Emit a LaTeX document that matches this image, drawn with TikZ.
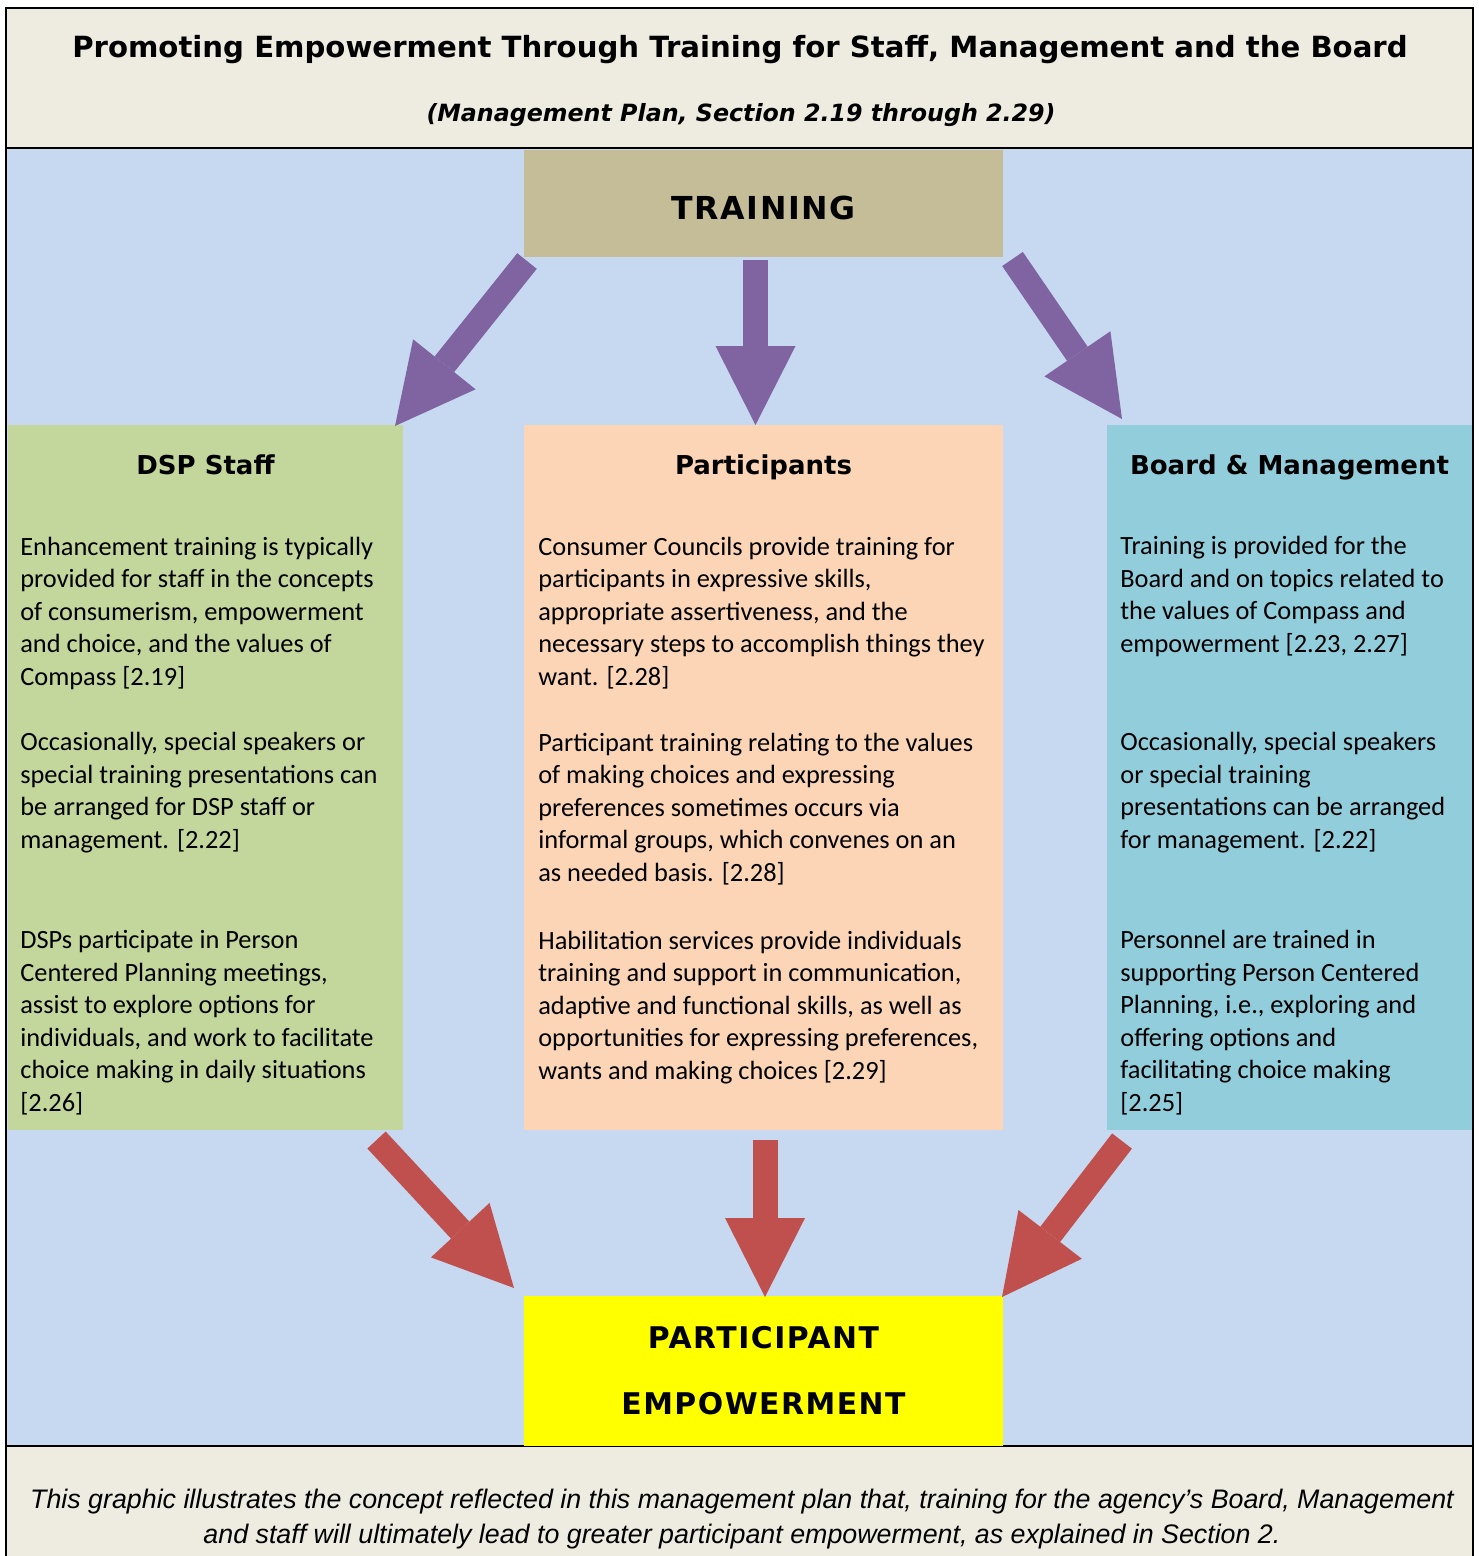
\documentclass[tikz,border=0pt]{standalone}
\usepackage{fontspec}
\setmainfont{Carlito}
\newfontfamily\headfont{DejaVu Sans}
\newfontfamily\spacedfont{DejaVu Sans}[LetterSpace=5]
\newfontfamily\notefont{Liberation Sans}
\usetikzlibrary{arrows.meta, positioning}
\definecolor{PaperTan}{RGB}{238,236,225}
\definecolor{SkyBlue}{RGB}{198,217,241}
\definecolor{KhakiBox}{RGB}{196,189,151}
\definecolor{StaffGreen}{RGB}{195,214,155}
\definecolor{PeachBox}{RGB}{251,213,181}
\definecolor{AquaBox}{RGB}{146,205,220}
\definecolor{Plum}{RGB}{128,100,162}
\definecolor{Brick}{RGB}{192,80,77}
\definecolor{Lemon}{RGB}{255,255,0}

\tikzset{
  box/.style={anchor=north west, inner sep=0pt, outer sep=0pt},
  colhead/.style={anchor=base, inner sep=0pt, font=\headfont\bfseries\fontsize{14.8}{18}\selectfont},
  para/.style={anchor=base west, align=left, inner sep=0pt, font=\fontsize{15}{18.44}\selectfont},
  flow/.style={line width=5mm, -{Triangle[length=15.8mm, width=16mm, line width=0pt]}},
}

\begin{document}
\begin{tikzpicture}[x=0.2mm, y=-0.2mm]
\useasboundingbox (0,0) rectangle (1479,1556);

\fill[PaperTan] (6,8) rectangle (1473,1556);
\fill[SkyBlue] (7,149) rectangle (1472,1446);
\draw[line width=0.4mm] (6,1556) -- (6,8) -- (1473,8) -- (1473,1556);
\draw[line width=0.3mm] (6,148) -- (1473,148);
\draw[line width=0.3mm] (6,1446) -- (1473,1446);

\node[anchor=base, font=\headfont\bfseries\fontsize{16.6}{20}\selectfont] (title) at (740,57)
  {Promoting Empowerment Through Training for Staff, Management and the Board};
\node[anchor=base, font=\headfont\bfseries\itshape\fontsize{13.5}{16}\selectfont] (subtitle) at (741,121)
  {(Management Plan, Section 2.19 through 2.29)};

\node[box, fill=KhakiBox, minimum width=95.8mm, minimum height=21.4mm] (train) at (524,150) {};
\node[anchor=base, font=\spacedfont\bfseries\fontsize{18}{22}\selectfont] (trainlabel) at ([shift={(0,69)}]train.north) {TRAINING};

\node[box, fill=StaffGreen, minimum width=79mm, minimum height=141mm] (dsp) at (8,425) {};
\node[box, fill=PeachBox, minimum width=95.8mm, minimum height=141mm] (part) at (524,425) {};
\node[box, fill=AquaBox, minimum width=73mm, minimum height=141mm] (board) at (1107,425) {};

\node[box, fill=Lemon, minimum width=95.8mm, minimum height=30mm] (empower) at (524,1296) {};
\node[anchor=base, align=center, font=\spacedfont\bfseries\fontsize{17}{37}\selectfont] (emplabel)
  at ([shift={(0,118)}]empower.north) {PARTICIPANT\\EMPOWERMENT};

\node[colhead] (dsphead) at ([shift={(0,49)}]dsp.north) {DSP Staff};
\node[colhead] (parthead) at ([shift={(0,49)}]part.north) {Participants};
\node[colhead] (boardhead) at ([shift={(0,49)}]board.north) {Board \& Management};

\node[para] (dspa) at ([shift={(12,260)}]dsp.north west)
  {Enhancement training is typically\\provided for staff in the concepts\\of consumerism, empowerment\\and choice, and the values of\\Compass [2.19]};
\node[para] (dspb) at ([shift={(12,423)}]dsp.north west)
  {Occasionally, special speakers or\\special training presentations can\\be arranged for DSP staff or\\management. [2.22]};
\node[para] (dspc) at ([shift={(12,686)}]dsp.north west)
  {DSPs participate in Person\\Centered Planning meetings,\\assist to explore options for\\individuals, and work to facilitate\\choice making in daily situations\\{[2.26]}};

\node[para] (parta) at ([shift={(14,260)}]part.north west)
  {Consumer Councils provide training for\\participants in expressive skills,\\appropriate assertiveness, and the\\necessary steps to accomplish things they\\want. [2.28]};
\node[para] (partb) at ([shift={(14,456)}]part.north west)
  {Participant training relating to the values\\of making choices and expressing\\preferences sometimes occurs via\\informal groups, which convenes on an\\as needed basis. [2.28]};
\node[para] (partc) at ([shift={(14,654)}]part.north west)
  {Habilitation services provide individuals\\training and support in communication,\\adaptive and functional skills, as well as\\opportunities for expressing preferences,\\wants and making choices [2.29]};

\node[para] (boarda) at ([shift={(13,227)}]board.north west)
  {Training is provided for the\\Board and on topics related to\\the values of Compass and\\empowerment [2.23, 2.27]};
\node[para] (boardb) at ([shift={(13,423)}]board.north west)
  {Occasionally, special speakers\\or special training\\presentations can be arranged\\for management. [2.22]};
\node[para] (boardc) at ([shift={(13,686)}]board.north west)
  {Personnel are trained in\\supporting Person Centered\\Planning, i.e., exploring and\\offering options and\\facilitating choice making\\{[2.25]}};

\draw[flow, Plum] ([shift={(3,4)}]train.south west) -- ([shift={(-8,1)}]dsp.north east);
\draw[flow, Plum] ([shift={(-8,3)}]train.south) -- ([shift={(-8,0)}]part.north);
\draw[flow, Plum] ([shift={(9.5,2)}]train.south east) -- ([shift={(15,-6)}]board.north west);

\draw[flow, Brick] ([shift={(-26.5,10)}]dsp.south east) -- ([shift={(-10,-8)}]empower.north west);
\draw[flow, Brick] ([shift={(1.5,10)}]part.south) -- ([shift={(1.5,1)}]empower.north);
\draw[flow, Brick] ([shift={(15,11)}]board.south west) -- ([shift={(-1,1)}]empower.north east);

\node[anchor=base, align=center, font=\notefont\itshape\fontsize{15.25}{19.9}\selectfont] (note) at (742,1543)
  {This graphic illustrates the concept reflected in this management plan that, training for the agency’s Board, Management\\and staff will ultimately lead to greater participant empowerment, as explained in Section 2.};
\end{tikzpicture}
\end{document}
